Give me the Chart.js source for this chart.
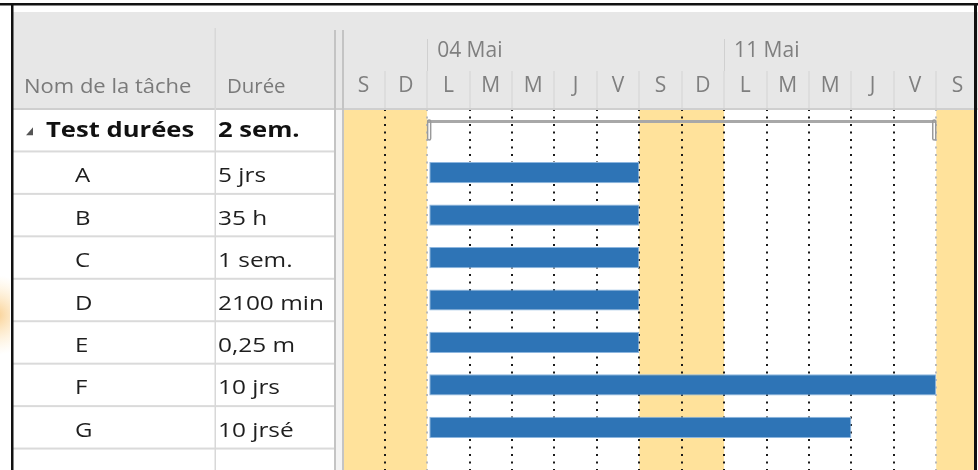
<!DOCTYPE html>
<html><head><meta charset="utf-8">
<script src="https://cdn.jsdelivr.net/npm/chart.js@4.4.0/dist/chart.umd.min.js"></script>
<style>
html,body{margin:0;padding:0;background:#fff;overflow:hidden;}
#wrap{position:relative;width:978px;height:470px;overflow:hidden;}
#c{display:block;}
</style></head><body>
<div id="wrap"><canvas id="c" width="978" height="491"></canvas></div>
<script>
// ---- data ----
const taskNames = ['Test durées','A','B','C','D','E','F','G',''];
const durations = ['2 sem.','5 jrs','35 h','1 sem.','2100 min','0,25 m','10 jrs','10 jrsé',''];
const taskStart = [null,0.05,0.05,0.05,0.05,0.05,0.05,0.05,null];
const taskEnd   = [null,5,5,5,5,5,12,10,null];
const summaryStart = 0;
const summaryEnd = 12;
const dayLetters = ['S','D','L','M','M','J','V','S','D','L','M','M','J','V','S'];
const firstDay = -2;             // Saturday 02 Mai relative to Monday 04 Mai
const weekLabels = ['04 Mai','11 Mai'];
const weekStarts = [0,7];
const weekendStarts = [-2,5,12];
const xMin = -1.96, xMax = 12.89;

const FONT = '"Open Sans", "Noto Sans", sans-serif';

function sText(ctx, txt, x, y, sx){
  ctx.save(); ctx.translate(x,y); ctx.scale(sx,1); ctx.fillText(txt,0,0); ctx.restore();
}

const ganttPlugin = {
  id:'gantt',
  beforeDraw(chart){
    const {ctx, chartArea:a, scales:{x}} = chart;
    ctx.save();
    ctx.fillStyle='#ffffff'; ctx.fillRect(0,0,chart.width,chart.height);
    ctx.fillStyle='#e7e7e7'; ctx.fillRect(12,12,chart.width-12,a.top-12);
    ctx.fillStyle='#FFE29B';
    weekendStarts.forEach(d=>{
      const x0=Math.max(a.left,x.getPixelForValue(d));
      const x1=Math.min(a.right,x.getPixelForValue(d+2));
      if(x1>x0) ctx.fillRect(x0,a.top,x1-x0,a.bottom-a.top);
    });
    ctx.restore();
  },
  afterDatasetsDraw(chart){
    const {ctx, scales:{x,y}} = chart;
    const rowH = y.getPixelForValue(1)-y.getPixelForValue(0);
    const top = y.getPixelForValue(0)-rowH/2;
    const x0 = x.getPixelForValue(summaryStart), x1 = x.getPixelForValue(summaryEnd);
    ctx.save();
    ctx.fillStyle='#a8a8a8';
    ctx.fillRect(x0, top+11, x1-x0, 3);
    ctx.strokeStyle='#9a9a9a'; ctx.lineWidth=1.5;
    [[x0, x0+4],[x1-4, x1]].forEach(([l,r])=>{
      ctx.beginPath();
      if (ctx.roundRect) ctx.roundRect(l+0.5, top+11, r-l-1, 20, 1.5); else ctx.rect(l+0.5, top+11, r-l-1, 20);
      ctx.stroke();
    });
    ctx.restore();
  },
  afterDraw(chart){
    const {ctx, chartArea:a, scales:{y}} = chart;
    const W = chart.width, H = chart.height;
    const rowH = y.getPixelForValue(1)-y.getPixelForValue(0);
    ctx.save();
    // separator strip
    ctx.fillStyle='#f3f3f3'; ctx.fillRect(335, a.top, 8, H-a.top);
    // header bottom line
    ctx.fillStyle='#cfcfcf'; ctx.fillRect(12, a.top-1, W-12, 2);
    // row lines
    ctx.fillStyle='#dadada';
    for(let i=0;i<taskNames.length;i++){
      const yb = y.getPixelForValue(i)+rowH/2;
      ctx.fillRect(12, yb-1, 323, 2);
    }
    // column lines
    ctx.fillStyle='#d8d8d8'; ctx.fillRect(214.5, 28, 1.5, H-28);
    ctx.fillStyle='#c4c4c4'; ctx.fillRect(334, 30, 2, H-30); ctx.fillRect(342, 30, 2, H-30);
    // header text
    ctx.fillStyle='#7a7a7a'; ctx.textBaseline='alphabetic'; ctx.textAlign='left';
    ctx.font='20px '+FONT;
    sText(ctx,'Nom de la tâche',24,93,1.1);
    sText(ctx,'Durée',227,93,1.02);
    // rows
    taskNames.forEach((name,i)=>{
      if(!name) return;
      const cy = y.getPixelForValue(i);
      if(i===0){
        ctx.fillStyle='#555';
        ctx.beginPath(); ctx.moveTo(33,cy-3); ctx.lineTo(33,cy+5); ctx.lineTo(26,cy+5); ctx.closePath(); ctx.fill();
        ctx.fillStyle='#111'; ctx.font='bold 21px '+FONT;
        sText(ctx,name,46,cy+7,1.22);
        sText(ctx,durations[i],218,cy+7,1.22);
      } else {
        ctx.fillStyle='#1e1e1e'; ctx.font='20px '+FONT;
        sText(ctx,name,75,cy+9.5,1.2);
        sText(ctx,durations[i],218,cy+9.5,1.22);
      }
    });
    // outer black frame
    ctx.fillStyle='#111';
    ctx.fillRect(0,3,W,2.5);
    ctx.fillRect(11,3,2.5,H);
    ctx.fillRect(974,3,3,H);
    // faint orange glow at far left
    const g = ctx.createRadialGradient(-4,315,2,-4,315,40);
    g.addColorStop(0,'rgba(245,175,70,0.55)'); g.addColorStop(1,'rgba(255,220,150,0)');
    ctx.fillStyle=g; ctx.fillRect(0,260,10,110);
    ctx.restore();
  }
};

new Chart(document.getElementById('c').getContext('2d'), {
  type:'bar',
  data:{
    labels: taskNames,
    datasets:[{
      label:'Tâches',
      data: taskNames.map((t,i)=> taskStart[i]==null ? null : [taskStart[i], taskEnd[i]]),
      backgroundColor:'#2E74B6',
      borderColor:'#8DB6DF',
      borderWidth:1,
      borderSkipped:false,
      barPercentage:0.5,
      categoryPercentage:1
    }]
  },
  options:{
    indexAxis:'y',
    responsive:false,
    animation:false,
    events:[],
    layout:{padding:{left:344, right:4, top:39, bottom:0}},
    plugins:{legend:{display:false}, tooltip:{enabled:false}},
    scales:{
      y:{type:'category', display:false, offset:true},
      x:{
        type:'linear', position:'top', min:xMin, max:xMax,
        afterBuildTicks:s=>{ s.ticks = dayLetters.map((_,i)=>({value:firstDay+i+0.5})); },
        afterFit:s=>{ s.height=38; },
        ticks:{ callback:(v,i)=>dayLetters[i], color:'#7f7f7f', font:{family:FONT, size:21},
                padding:-27.6, maxRotation:0, autoSkip:false },
        grid:{ offset:true, lineWidth:2,
               color:c=>{ const b=firstDay+c.index; return (b===summaryStart||b===summaryEnd)?'#b9b9b9':'#1a1a1a'; },
               drawTicks:true, tickLength:38, tickColor:'#d3d3d3', tickWidth:1, tickBorderDash:[] },
        border:{display:false, dash:[2,5.5]}
      },
      xw:{
        type:'linear', position:'top', weight:1, min:xMin, max:xMax,
        afterBuildTicks:s=>{ s.ticks = weekStarts.map(v=>({value:v})); },
        afterFit:s=>{ s.height=32; },
        ticks:{ callback:(v,i)=>weekLabels[i], align:'start', labelOffset:10, padding:-24.6,
                color:'#7f7f7f', font:{family:FONT, size:21}, maxRotation:0, autoSkip:false },
        grid:{ drawOnChartArea:false, drawTicks:true, tickLength:32, tickColor:'#d0d0d0', tickWidth:1 },
        border:{display:false}
      }
    }
  },
  plugins:[ganttPlugin]
});
</script>
</body></html>
